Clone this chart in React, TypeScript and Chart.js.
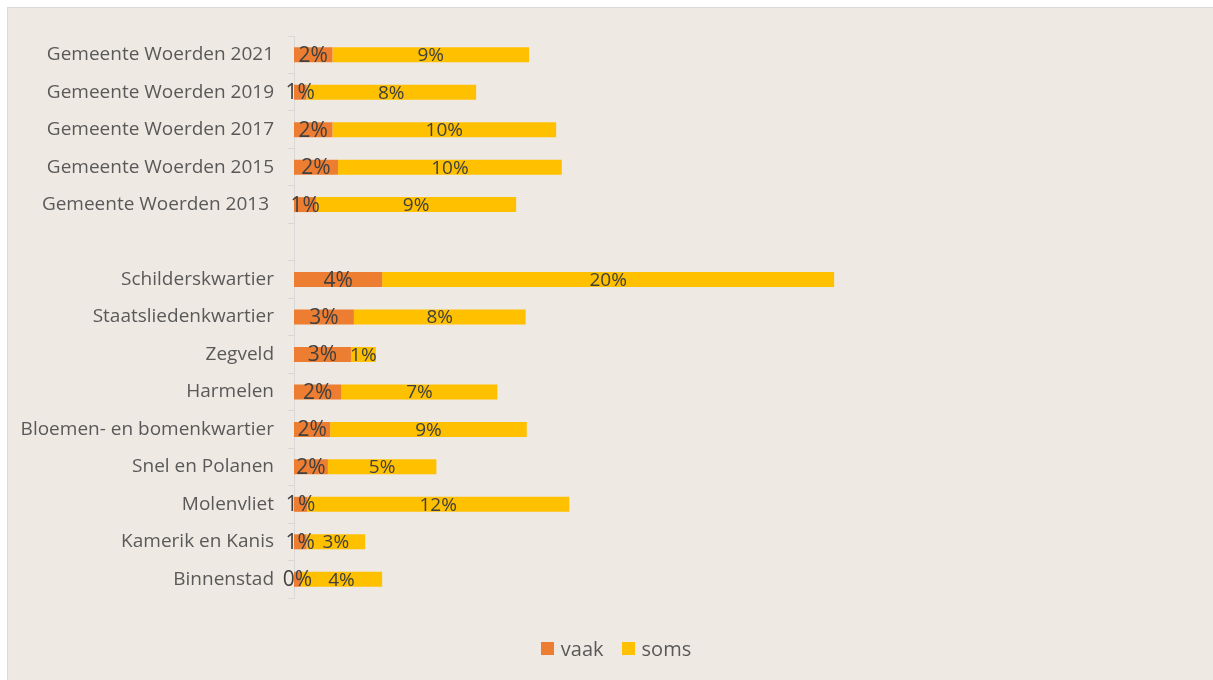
import React, { useEffect, useRef } from "react";
import { Chart, registerables } from "chart.js";

Chart.register(...registerables);

const categories = [
  "Gemeente Woerden 2021",
  "Gemeente Woerden 2019",
  "Gemeente Woerden 2017",
  "Gemeente Woerden 2015",
  "Gemeente Woerden 2013 ",
  "",
  "Schilderskwartier",
  "Staatsliedenkwartier",
  "Zegveld",
  "Harmelen",
  "Bloemen- en bomenkwartier",
  "Snel en Polanen",
  "Molenvliet",
  "Kamerik en Kanis",
  "Binnenstad",
];

const vaak = [0.017, 0.0055, 0.017, 0.0195, 0.0098, null, 0.039, 0.0265, 0.0252, 0.021, 0.016, 0.015, 0.0058, 0.0055, 0.003];
const soms = [0.087, 0.0751, 0.099, 0.099, 0.0885, null, 0.2, 0.076, 0.011, 0.069, 0.087, 0.048, 0.116, 0.026, 0.036];

const seriesNames = ["vaak", "soms"];
const seriesColors = ["#ED7D31", "#FFC000"];

const FONT = "'Open Sans', sans-serif";

const labelPlugin = {
  id: "barLabels",
  afterDatasetsDraw(chart: any) {
    const ctx = chart.ctx;
    ctx.save();
    ctx.textAlign = "center";
    ctx.textBaseline = "middle";
    ctx.fillStyle = "#404040";
    chart.data.datasets.forEach((ds: any, di: number) => {
      const meta = chart.getDatasetMeta(di);
      ctx.font = `${di === 0 ? 21 : 19}px ${FONT}`;
      meta.data.forEach((el: any, i: number) => {
        const v = ds.data[i];
        if (v === null || v === undefined) return;
        const { x, y, base } = el.getProps(["x", "y", "base"], true);
        const txt = Math.round(v * 100) + "%";
        ctx.fillText(txt, (x + base) / 2, y + 1);
      });
    });
    ctx.restore();
  },
};

export default function App() {
  const ref = useRef<HTMLCanvasElement>(null);
  useEffect(() => {
    document.body.style.overflow = "hidden";
    const chart = new Chart(ref.current!, {
      type: "bar",
      data: {
        labels: categories,
        datasets: [
          { label: seriesNames[0], data: vaak, backgroundColor: seriesColors[0], barPercentage: 0.4, categoryPercentage: 1 },
          { label: seriesNames[1], data: soms, backgroundColor: seriesColors[1], barPercentage: 0.4, categoryPercentage: 1 },
        ],
      },
      options: {
        indexAxis: "y",
        animation: false,
        responsive: false,
        maintainAspectRatio: false,
        layout: { padding: { left: 0, right: 26, top: 28, bottom: 82 } },
        scales: {
          x: {
            stacked: true,
            min: 0,
            max: 0.4,
            display: false,
          },
          y: {
            stacked: true,
            grid: { drawOnChartArea: false, drawTicks: true, tickLength: 6, color: "#d9d9d9", offset: true },
            border: { display: true, color: "#d9d9d9" },
            ticks: { color: "#595959", font: { family: FONT, size: 19 }, padding: 14 },
            afterFit: (s: any) => { s.width = 286; },
          },
        },
        plugins: {
          legend: { display: false },
          tooltip: { enabled: false },
        },
      },
      plugins: [labelPlugin],
    });
    return () => chart.destroy();
  }, []);
  return (
    <div
      style={{
        position: "fixed",
        left: 7,
        top: 7,
        width: 1216,
        height: 672,
        border: "1px solid #d9d9d9",
        background: "#efe9e3",
      }}
    >
      <canvas ref={ref} width={1216} height={672} style={{ display: "block" }} />
      <div
        style={{
          position: "absolute",
          left: 0,
          right: 0,
          top: 626,
          height: 29,
          display: "flex",
          justifyContent: "center",
          alignItems: "center",
          fontFamily: FONT,
          fontSize: 20,
          color: "#595959",
        }}
      >
        {seriesNames.map((n, i) => (
          <div key={n} style={{ display: "flex", alignItems: "center", marginLeft: i ? 18 : 0 }}>
            <span style={{ width: 13, height: 13, background: seriesColors[i], marginRight: 7, display: "inline-block" }} />
            <span style={{ lineHeight: "29px" }}>{n}</span>
          </div>
        ))}
      </div>
    </div>
  );
}
